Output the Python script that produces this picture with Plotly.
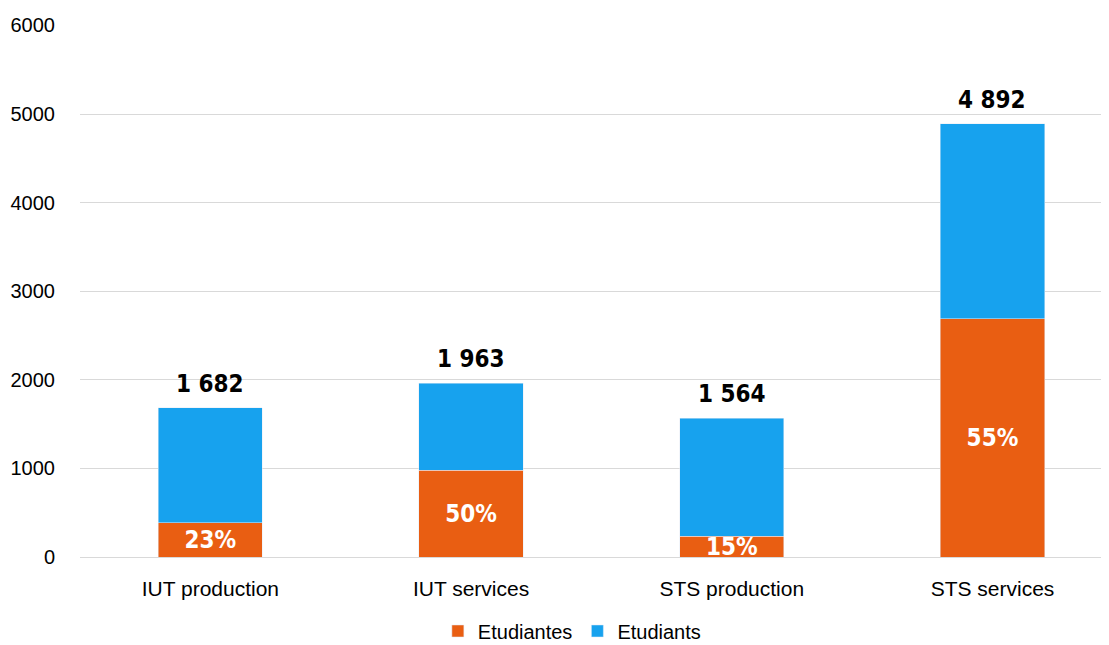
import plotly.graph_objects as go

categories = ["IUT production", "IUT services", "STS production", "STS services"]
totals = [1682, 1963, 1564, 4892]
etudiantes = [387, 982, 235, 2690]
etudiants = [1295, 981, 1329, 2202]
pct_labels = ["23%", "50%", "15%", "55%"]
y_ticks = [0, 1000, 2000, 3000, 4000, 5000, 6000]

total_labels = [f"{v:,}".replace(",", " ") for v in totals]

narrow = "DejaVu Sans Condensed, Liberation Sans Narrow, Arial Narrow, sans-serif"
regular = "Liberation Sans, Arial, sans-serif"

fig = go.Figure()

fig.add_trace(go.Bar(
    x=categories,
    y=etudiantes,
    name="Etudiantes",
    marker_color="#E95E12",
    width=0.4,
    text=pct_labels,
    textposition="inside",
    insidetextanchor="middle",
    constraintext="none",
    textangle=0,
    textfont=dict(family=narrow, size=24, color="white", weight="bold"),
))

fig.add_trace(go.Bar(
    x=categories,
    y=etudiants,
    name="Etudiants",
    marker_color="#17A2EE",
    width=0.4,
))

# totals above the stacks
for cat, tot, lab in zip(categories, totals, total_labels):
    fig.add_annotation(
        x=cat, y=tot, text=lab, showarrow=False,
        yanchor="bottom", yshift=8,
        font=dict(family=narrow, size=24, color="black", weight="bold"),
    )

# the page body adds 8px around the figure
fig.update_layout(
    barmode="stack",
    width=1101,
    height=637,
    margin=dict(l=72, r=0, t=17, b=88, autoexpand=False),
    plot_bgcolor="white",
    paper_bgcolor="white",
    font=dict(family=regular, size=20, color="black"),
    legend=dict(
        orientation="h",
        x=0.478,
        xanchor="center",
        yref="container",
        y=0.022,
        yanchor="middle",
        font=dict(size=20),
        traceorder="normal",
        itemwidth=30,
    ),
    xaxis=dict(
        range=[-0.5, 3.447],
        showline=True,
        linecolor="#d9d9d9",
        tickfont=dict(size=21),
        ticks="",
        ticklabelstandoff=13,
        automargin=False,
    ),
    yaxis=dict(
        range=[0, 6005],
        tickvals=y_ticks,
        tickfont=dict(size=20),
        gridcolor="#d9d9d9",
        zeroline=False,
        ticks="",
        ticklabelstandoff=24,
        automargin=False,
    ),
)

fig.write_html("out.html")
